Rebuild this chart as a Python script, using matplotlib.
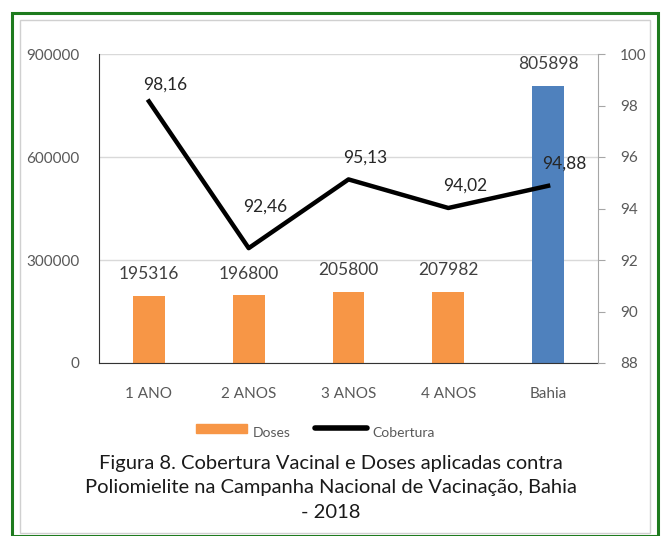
import matplotlib.pyplot as plt
from matplotlib.patches import Rectangle
import numpy as np

categorias = ['1 ANO', '2 ANOS', '3 ANOS', '4 ANOS', 'Bahia']
doses = [195316, 196800, 205800, 207982, 805898]
cobertura = [98.16, 92.46, 95.13, 94.02, 94.88]
cores = ['#F79646', '#F79646', '#F79646', '#F79646', '#4F81BD']
# deslocamento vertical dos rótulos da linha (pontos)
desloc = [6, 24, 10, 10, 10]

plt.rcParams['font.family'] = ['Lato', 'DejaVu Sans']
cinza = '#595959'

fig = plt.figure(figsize=(6.62, 5.36), dpi=100)
W, H = 662, 536

# moldura verde e borda cinza
fig.patches.append(Rectangle((12 / W, 0), 646 / W, 1 - 13 / H, transform=fig.transFigure,
                             fill=False, edgecolor='#1E7B1E', linewidth=2.2))
fig.patches.append(Rectangle((20 / W, 3 / H), 630 / W, 1 - 23 / H, transform=fig.transFigure,
                             fill=False, edgecolor='#D0D0D0', linewidth=1))

ax = fig.add_axes([99 / W, 1 - 363 / H, (598 - 99) / W, (363 - 54) / H])
x = np.arange(len(categorias))
ax.bar(x, doses, width=0.32, color=cores, zorder=2)
ax.set_ylim(0, 900000)
ax.set_xlim(-0.5, len(categorias) - 0.5)
ax.set_yticks([0, 300000, 600000, 900000])
ax.set_yticklabels(['0', '300000', '600000', '900000'])
ax.grid(axis='y', color='#D9D9D9', linewidth=1, zorder=0)
ax.set_xticks(x)
ax.set_xticklabels(categorias)
ax.tick_params(axis='both', length=0, colors=cinza, labelsize=11)
ax.tick_params(axis='y', pad=14)
ax.tick_params(axis='x', pad=17)
for s in ['top', 'right']:
    ax.spines[s].set_visible(False)
ax.spines['left'].set_color('#333333')
ax.spines['bottom'].set_color('#333333')
for xi, d in zip(x, doses):
    ax.annotate(str(d), (xi, d), xytext=(0, 10), textcoords='offset points',
                ha='center', va='bottom', fontsize=12.5, color='#404040')

ax2 = ax.twinx()
ax2.plot(x, cobertura, color='black', linewidth=3.2, zorder=3)
ax2.set_ylim(88, 100)
ax2.set_yticks(np.arange(88, 101, 2))
ax2.tick_params(axis='y', length=5, color='#A6A6A6', labelcolor=cinza, labelsize=11, pad=11)
for s in ['top', 'left', 'bottom']:
    ax2.spines[s].set_visible(False)
ax2.spines['right'].set_color('#A6A6A6')
for xi, c, dy in zip(x, cobertura, desloc):
    ax2.annotate(f'{c:.2f}'.replace('.', ','), (xi, c), xytext=(12, dy), textcoords='offset points',
                 ha='center', va='bottom', fontsize=12.5, color='#262626')

# legenda
fig.add_artist(Rectangle((196 / W, 1 - 433 / H), 51 / W, 9 / H, transform=fig.transFigure,
                         color='#F79646'))
fig.text(253 / W, 1 - 433 / H, 'Doses', fontsize=10, color=cinza, va='center', ha='left')
fig.add_artist(plt.Line2D([315 / W, 367 / W], [1 - 428 / H] * 2, transform=fig.transFigure,
                          color='black', linewidth=4, solid_capstyle='round'))
fig.text(372 / W, 1 - 433 / H, 'Cobertura', fontsize=10, color=cinza, va='center', ha='left')

fig.text(0.5, 1 - 488 / H,
         'Figura 8. Cobertura Vacinal e Doses aplicadas contra\n'
         'Poliomielite na Campanha Nacional de Vacinação, Bahia\n- 2018',
         ha='center', va='center', fontsize=14.5, color='#1A1A1A', linespacing=1.55)

fig.savefig('out.png', dpi=100)
